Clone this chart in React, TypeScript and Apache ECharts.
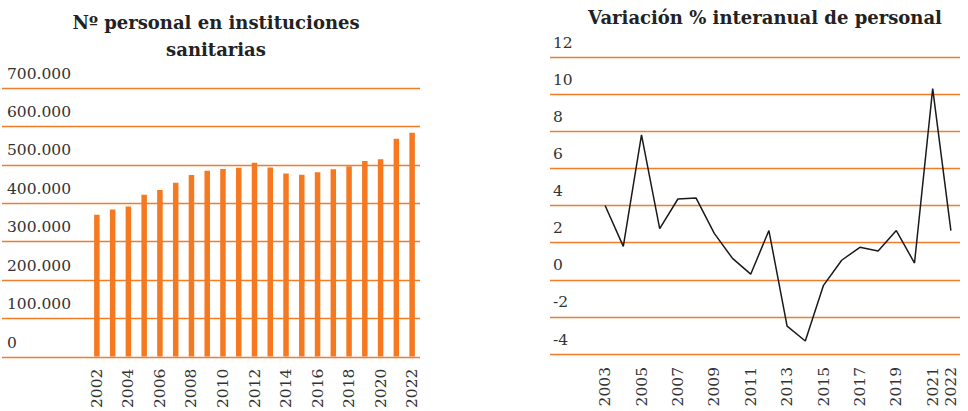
import React, { useEffect, useRef } from "react";
import * as echarts from "echarts";

const barYears = ["2002","2003","2004","2005","2006","2007","2008","2009","2010","2011","2012","2013","2014","2015","2016","2017","2018","2019","2020","2021","2022"];
const staffCount = [369500, 383000, 391000, 421500, 434000, 453000, 473500, 484000, 489000, 492000, 505000, 492500, 477000, 474000, 480500, 488000, 496000, 510000, 514000, 568000, 583500];
const lineYears = ["2003","2004","2005","2006","2007","2008","2009","2010","2011","2012","2013","2014","2015","2016","2017","2018","2019","2020","2021","2022"];
const yoyChange = [4.0, 1.8, 7.8, 2.75, 4.35, 4.4, 2.5, 1.15, 0.3, 2.65, -2.5, -3.3, -0.3, 1.05, 1.75, 1.55, 2.65, 0.9, 10.3, 2.65];

const leftTitle = "Nº personal en instituciones\nsanitarias";
const rightTitle = "Variación % interanual de personal";

const FONT = "'DejaVu Serif', serif";
const ORANGE_LINE = "#EF7D2A";
const ORANGE_BAR = "#F47920";
const TEXT = "#333333";

const thousands = (v: number) => String(v).replace(/\B(?=(\d{3})+(?!\d))/g, ".");

export default function App() {
  const ref = useRef<HTMLDivElement>(null);
  useEffect(() => {
    if (!ref.current) return;
    const chart = echarts.init(ref.current, null, { renderer: "svg" });
    const tickLabel = {
      inside: true,
      color: TEXT,
      fontFamily: FONT,
      fontSize: 15.5,
      verticalAlign: "bottom" as const,
      lineHeight: 29,
    };
    const xLabel = {
      rotate: 90,
      color: TEXT,
      fontFamily: FONT,
      fontSize: 15.5,
      margin: 12,
    };
    chart.setOption({
      animation: false,
      title: [
        {
          text: leftTitle,
          left: 211,
          top: 4,
          textAlign: "center",
          textStyle: { fontFamily: FONT, fontWeight: "bold", fontSize: 18, lineHeight: 27, color: "#222" },
        },
        {
          text: rightTitle,
          left: 760,
          top: 1,
          textAlign: "center",
          textStyle: { fontFamily: FONT, fontWeight: "bold", fontSize: 18, lineHeight: 22, color: "#222" },
        },
      ],
      grid: [
        { left: 2, top: 88, width: 418, height: 269 },
        { left: 89, top: 88, width: 331, height: 269 },
        { left: 550, top: 57, width: 410, height: 297 },
        { left: 596, top: 57, width: 364, height: 297 },
      ],
      xAxis: [
        { gridIndex: 0, type: "value", show: false },
        {
          gridIndex: 1,
          type: "category",
          data: barYears,
          axisLine: { show: false },
          axisTick: { show: false },
          axisLabel: { ...xLabel, interval: 1 },
        },
        { gridIndex: 2, type: "value", show: false },
        {
          gridIndex: 3,
          type: "category",
          data: lineYears,
          axisLine: { show: false },
          axisTick: { show: false },
          axisLabel: {
            ...xLabel,
            margin: 13,
            interval: (i: number) => i % 2 === 0 || i === lineYears.length - 1,
          },
        },
      ],
      yAxis: [
        {
          gridIndex: 0,
          type: "value",
          min: 0,
          max: 700000,
          interval: 100000,
          axisLine: { show: false },
          axisTick: { show: false },
          splitLine: { show: true, lineStyle: { color: ORANGE_LINE, width: 1.3 } },
          axisLabel: { ...tickLabel, margin: 5, formatter: (v: number) => thousands(v) },
        },
        { gridIndex: 1, type: "value", min: 0, max: 700000, show: false, splitLine: { show: false } },
        {
          gridIndex: 2,
          type: "value",
          min: -4,
          max: 12,
          interval: 2,
          axisLine: { show: false },
          axisTick: { show: false },
          splitLine: { show: true, lineStyle: { color: ORANGE_LINE, width: 1.3 } },
          axisLabel: { ...tickLabel, margin: 3 },
        },
        { gridIndex: 3, type: "value", min: -4, max: 12, show: false, splitLine: { show: false } },
      ],
      series: [
        {
          type: "bar",
          xAxisIndex: 1,
          yAxisIndex: 1,
          data: staffCount,
          barWidth: 5.5,
          itemStyle: { color: ORANGE_BAR },
        },
        {
          type: "line",
          xAxisIndex: 3,
          yAxisIndex: 3,
          data: yoyChange,
          showSymbol: false,
          symbol: "none",
          lineStyle: { color: "#1a1a1a", width: 1.5 },
        },
      ],
    });
    return () => chart.dispose();
  }, []);
  return <div ref={ref} style={{ position: "fixed", left: 0, top: 0, width: 968, height: 411, background: "#fff" }} />;
}
